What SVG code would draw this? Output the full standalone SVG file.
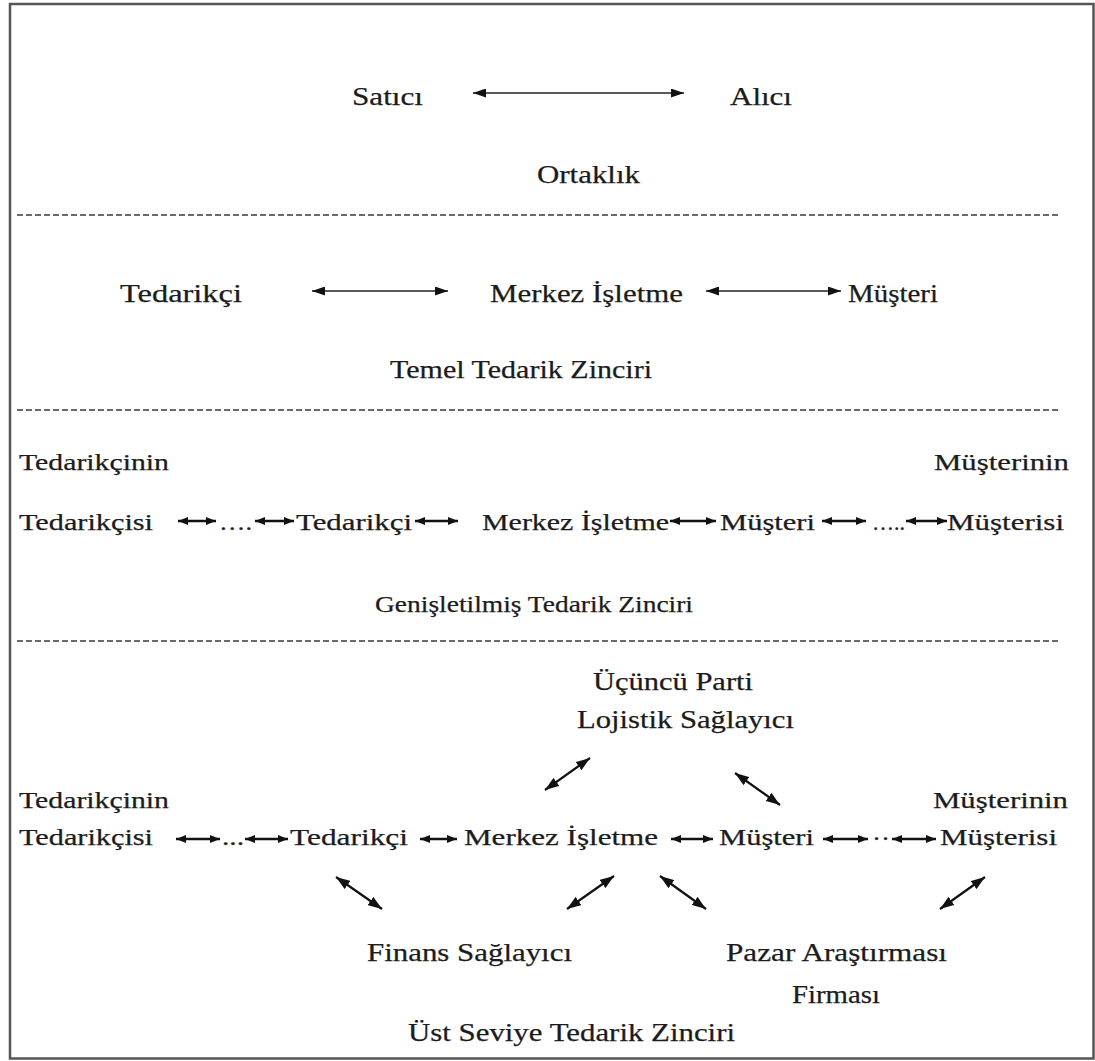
<svg xmlns="http://www.w3.org/2000/svg" width="1095" height="1061" viewBox="0 0 1095 1061">
<defs>
<style>
.t{font-family:"Liberation Serif","Times New Roman",serif;font-size:25px;fill:#1c1c1c;stroke:#1c1c1c;stroke-width:0.25}
.s{font-family:"Liberation Serif","Times New Roman",serif;font-size:24px;fill:#1c1c1c;stroke:#1c1c1c;stroke-width:0.25}
.dash{stroke:#3a3a3a;stroke-width:1.3;stroke-dasharray:6 3;fill:none}
.la{stroke:#222;stroke-width:1.7;fill:none}
.sa{stroke:#111;stroke-width:2.4;fill:none}
.da{stroke:#111;stroke-width:2.2;fill:none}
</style>
<marker id="ah" viewBox="0 0 13 9" refX="13" refY="4.5" markerWidth="13" markerHeight="9" markerUnits="userSpaceOnUse" orient="auto-start-reverse"><path d="M0,0 L13,4.5 L0,9 z" fill="#111"/></marker>
<marker id="sh" viewBox="0 0 10 8" refX="10" refY="4" markerWidth="10" markerHeight="8" markerUnits="userSpaceOnUse" orient="auto-start-reverse"><path d="M0,0 L10,4 L0,8 z" fill="#111"/></marker>
<marker id="dh" viewBox="0 0 14 10" refX="14" refY="5" markerWidth="14" markerHeight="10" markerUnits="userSpaceOnUse" orient="auto-start-reverse"><path d="M0,0 L14,5 L0,10 z" fill="#111"/></marker>
</defs>
<rect x="10" y="4" width="1083.5" height="1054.5" fill="#fff" stroke="#555" stroke-width="2.5"/>
<g id="separators">
<line class="dash" x1="17" y1="215" x2="1060" y2="215"/>
<line class="dash" x1="17" y1="410" x2="1060" y2="410"/>
<line class="dash" x1="17" y1="641" x2="1060" y2="641"/>
</g>
<g id="connectors">
<line class="la" x1="473" y1="93" x2="684" y2="93" marker-start="url(#ah)" marker-end="url(#ah)"/>
<line class="la" x1="312" y1="291" x2="448" y2="291" marker-start="url(#ah)" marker-end="url(#ah)"/>
<line class="la" x1="706" y1="291" x2="841" y2="291" marker-start="url(#ah)" marker-end="url(#ah)"/>
<line class="sa" x1="178" y1="521" x2="216" y2="521" marker-start="url(#sh)" marker-end="url(#sh)"/>
<line class="sa" x1="255" y1="521" x2="294" y2="521" marker-start="url(#sh)" marker-end="url(#sh)"/>
<line class="sa" x1="415" y1="521" x2="458" y2="521" marker-start="url(#sh)" marker-end="url(#sh)"/>
<line class="sa" x1="670" y1="521" x2="716" y2="521" marker-start="url(#sh)" marker-end="url(#sh)"/>
<line class="sa" x1="822" y1="521" x2="866" y2="521" marker-start="url(#sh)" marker-end="url(#sh)"/>
<line class="sa" x1="906" y1="521" x2="947" y2="521" marker-start="url(#sh)" marker-end="url(#sh)"/>
<line class="sa" x1="176" y1="839" x2="220" y2="839" marker-start="url(#sh)" marker-end="url(#sh)"/>
<line class="sa" x1="245" y1="839" x2="288" y2="839" marker-start="url(#sh)" marker-end="url(#sh)"/>
<line class="sa" x1="420" y1="839" x2="457" y2="839" marker-start="url(#sh)" marker-end="url(#sh)"/>
<line class="sa" x1="671" y1="839" x2="713" y2="839" marker-start="url(#sh)" marker-end="url(#sh)"/>
<line class="sa" x1="823" y1="839" x2="868" y2="839" marker-start="url(#sh)" marker-end="url(#sh)"/>
<line class="sa" x1="892" y1="839" x2="936" y2="839" marker-start="url(#sh)" marker-end="url(#sh)"/>
<line class="da" x1="545" y1="790" x2="590" y2="758" marker-start="url(#dh)" marker-end="url(#dh)"/>
<line class="da" x1="735" y1="773" x2="780" y2="805" marker-start="url(#dh)" marker-end="url(#dh)"/>
<line class="da" x1="336" y1="877" x2="382" y2="909" marker-start="url(#dh)" marker-end="url(#dh)"/>
<line class="da" x1="567" y1="909" x2="614" y2="876" marker-start="url(#dh)" marker-end="url(#dh)"/>
<line class="da" x1="660" y1="876" x2="706" y2="909" marker-start="url(#dh)" marker-end="url(#dh)"/>
<line class="da" x1="940" y1="909" x2="985" y2="877" marker-start="url(#dh)" marker-end="url(#dh)"/>
</g>
<g id="section1">
<text id="satici" class="t" x="352" y="105" textLength="71" lengthAdjust="spacingAndGlyphs">Satıcı</text>
<text id="alici" class="t" x="730" y="105" textLength="62" lengthAdjust="spacingAndGlyphs">Alıcı</text>
<text id="ortaklik" class="t" x="537" y="183" textLength="103" lengthAdjust="spacingAndGlyphs">Ortaklık</text>
</g>
<g id="section2">
<text id="s2-tedarikci" class="t" x="120" y="302" textLength="122" lengthAdjust="spacingAndGlyphs">Tedarikçi</text>
<text id="s2-merkez" class="t" x="490" y="302" textLength="193" lengthAdjust="spacingAndGlyphs">Merkez İşletme</text>
<text id="s2-musteri" class="t" x="848" y="302" textLength="90" lengthAdjust="spacingAndGlyphs">Müşteri</text>
<text id="s2-title" class="t" x="390" y="378" textLength="262" lengthAdjust="spacingAndGlyphs">Temel Tedarik Zinciri</text>
</g>
<g id="section3">
<text class="s" x="19" y="470" textLength="150" lengthAdjust="spacingAndGlyphs">Tedarikçinin</text>
<text class="s" x="19" y="530" textLength="134" lengthAdjust="spacingAndGlyphs">Tedarikçisi</text>
<text class="s" x="219" y="530" textLength="33" lengthAdjust="spacingAndGlyphs">….</text>
<text class="s" x="296" y="530" textLength="116" lengthAdjust="spacingAndGlyphs">Tedarikçi</text>
<text class="s" x="482" y="530" textLength="187" lengthAdjust="spacingAndGlyphs">Merkez İşletme</text>
<text class="s" x="720" y="530" textLength="95" lengthAdjust="spacingAndGlyphs">Müşteri</text>
<text class="s" x="872" y="530" textLength="33" lengthAdjust="spacingAndGlyphs">…..</text>
<text class="s" x="947" y="530" textLength="117" lengthAdjust="spacingAndGlyphs">Müşterisi</text>
<text class="s" x="934" y="470" textLength="135" lengthAdjust="spacingAndGlyphs">Müşterinin</text>
<text class="s" x="375" y="612" textLength="318" lengthAdjust="spacingAndGlyphs">Genişletilmiş Tedarik Zinciri</text>
</g>
<g id="section4">
<text class="t" x="593" y="690" textLength="160" lengthAdjust="spacingAndGlyphs">Üçüncü Parti</text>
<text class="t" x="577" y="728" textLength="217" lengthAdjust="spacingAndGlyphs">Lojistik Sağlayıcı</text>
<text class="s" x="19" y="808" textLength="150" lengthAdjust="spacingAndGlyphs">Tedarikçinin</text>
<text class="s" x="19" y="845" textLength="134" lengthAdjust="spacingAndGlyphs">Tedarikçisi</text>
<text class="s" x="222" y="845" textLength="22" lengthAdjust="spacingAndGlyphs">...</text>
<text class="s" x="290" y="845" textLength="118" lengthAdjust="spacingAndGlyphs">Tedarikçi</text>
<text class="s" x="464" y="845" textLength="194" lengthAdjust="spacingAndGlyphs">Merkez İşletme</text>
<text class="s" x="719" y="845" textLength="95" lengthAdjust="spacingAndGlyphs">Müşteri</text>
<text class="s" x="872" y="846" textLength="18" lengthAdjust="spacingAndGlyphs">··</text>
<text class="s" x="940" y="845" textLength="117" lengthAdjust="spacingAndGlyphs">Müşterisi</text>
<text class="s" x="933" y="808" textLength="135" lengthAdjust="spacingAndGlyphs">Müşterinin</text>
<text class="t" x="367" y="961" textLength="205" lengthAdjust="spacingAndGlyphs">Finans Sağlayıcı</text>
<text class="t" x="726" y="961" textLength="221" lengthAdjust="spacingAndGlyphs">Pazar Araştırması</text>
<text class="t" x="792" y="1003" textLength="88" lengthAdjust="spacingAndGlyphs">Firması</text>
<text class="t" x="408" y="1041" textLength="327" lengthAdjust="spacingAndGlyphs">Üst Seviye Tedarik Zinciri</text>
</g>
</svg>
